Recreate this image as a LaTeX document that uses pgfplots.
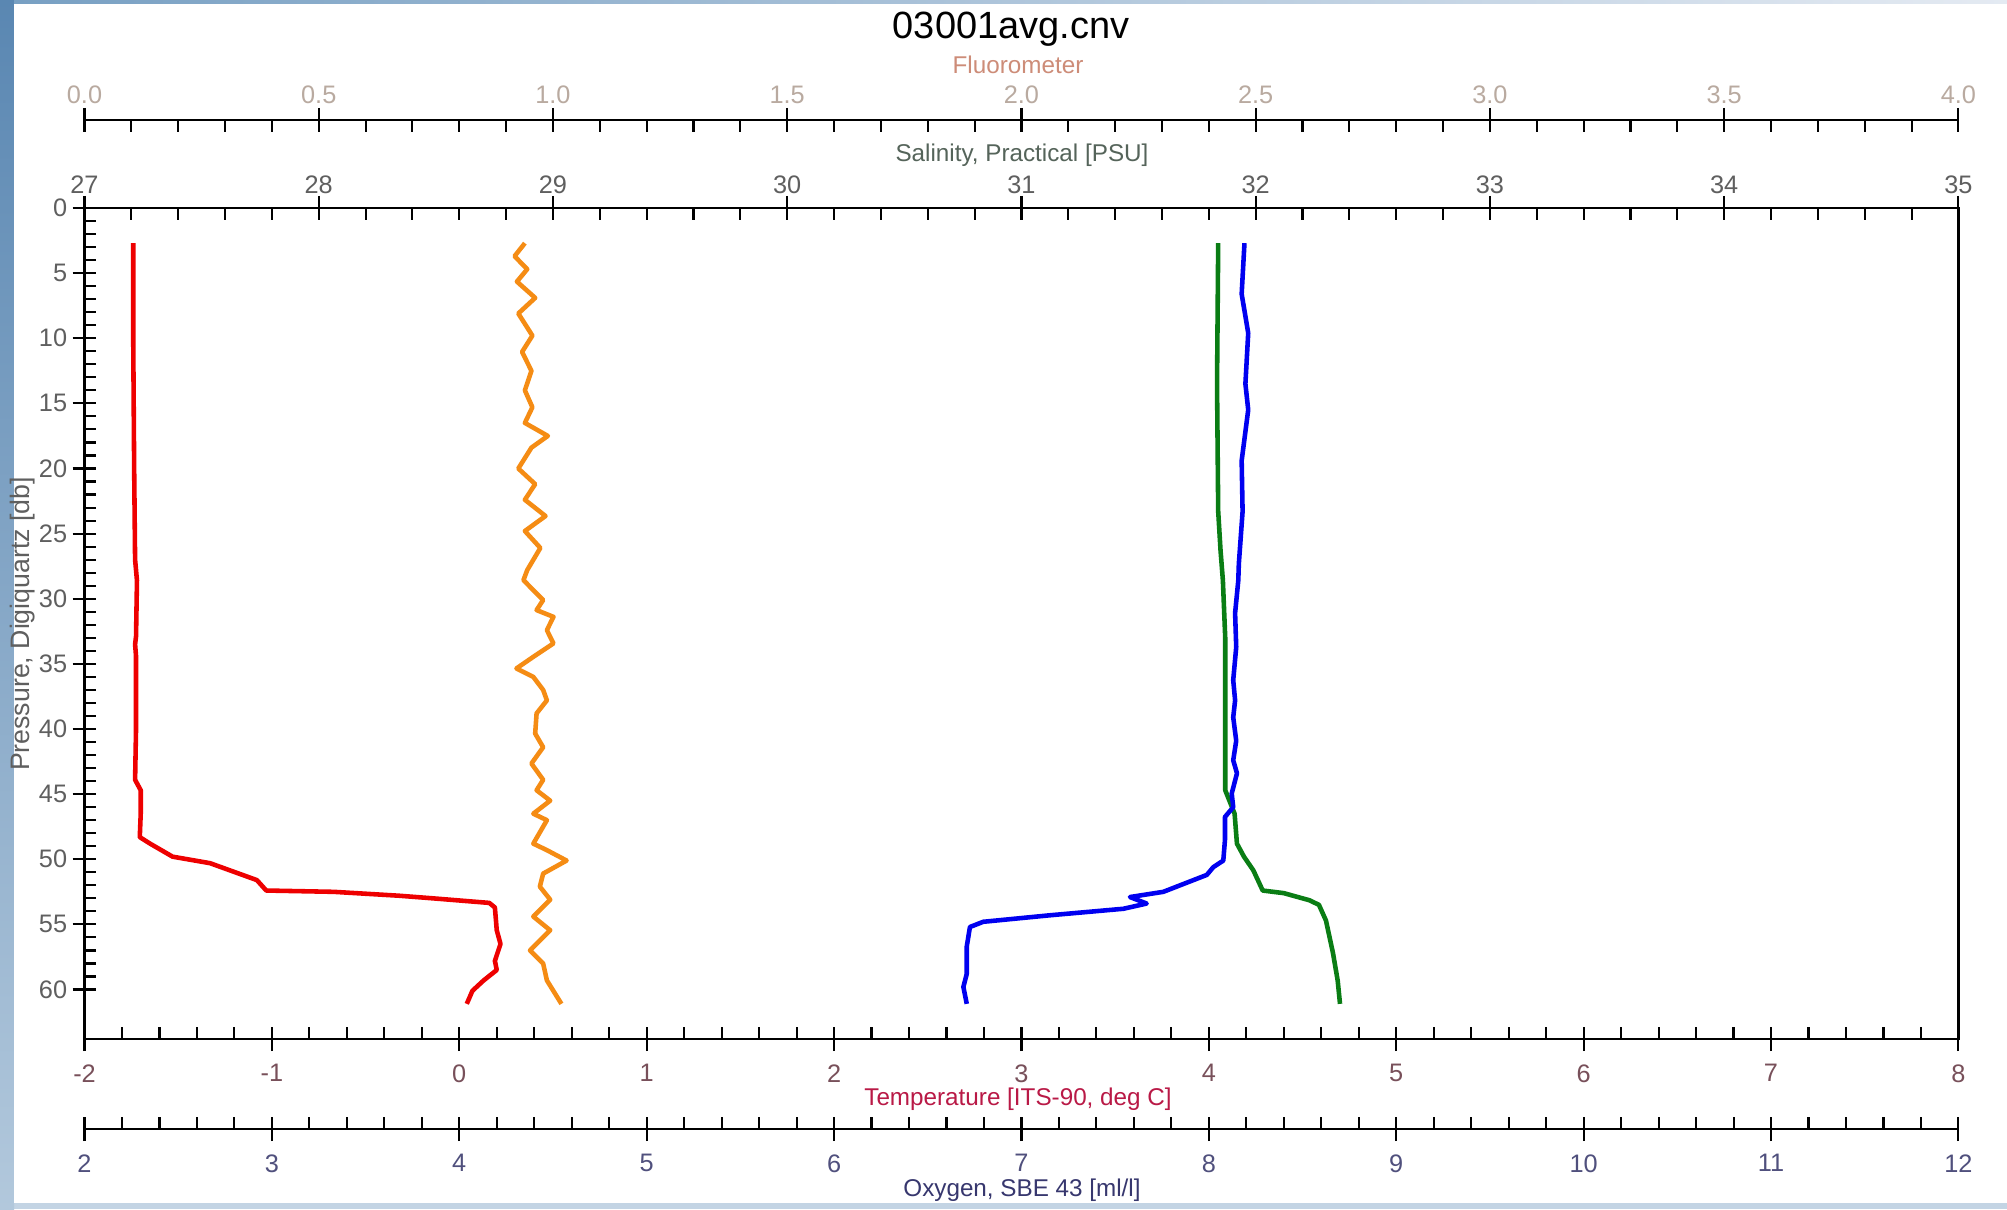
\documentclass[border=0pt]{standalone}
\usepackage{fontspec}
\setmainfont{Liberation Sans}
\usepackage{pgfplots}
\pgfplotsset{compat=1.18}
\usepackage{pgfplotstable}

\definecolor{cRed}{RGB}{238,0,0}
\definecolor{cOrange}{RGB}{245,140,20}
\definecolor{cGreen}{RGB}{10,125,20}
\definecolor{cBlue}{RGB}{0,0,240}
\definecolor{lFluor}{RGB}{205,140,120}
\definecolor{lSal}{RGB}{85,100,90}
\definecolor{lTemp}{RGB}{185,25,70}
\definecolor{lOxy}{RGB}{55,55,110}
\definecolor{tGray}{RGB}{95,95,95}
\definecolor{tFluor}{RGB}{185,170,160}
\definecolor{tTemp}{RGB}{120,80,90}
\definecolor{tOxy}{RGB}{80,80,125}
\definecolor{bgBlue}{RGB}{195,212,228}

\newcommand{\tickfont}{\fontsize{7.2}{8}\selectfont}
\newcommand{\labfont}{\fontsize{6.9}{8}\selectfont}

\pgfplotstableread{
T p
-1.74 2.7
-1.74 10
-1.735 20
-1.73 27
-1.72 28.6
-1.725 32.9
-1.73 33.5
-1.725 34.4
-1.725 40
-1.73 43.9
-1.70 44.7
-1.70 46.5
-1.705 48.3
-1.65 48.8
-1.53 49.8
-1.33 50.3
-1.08 51.6
-1.03 52.4
-0.67 52.5
-0.32 52.8
-0.14 53.0
0.16 53.35
0.19 53.7
0.20 55.45
0.22 56.5
0.19 57.8
0.20 58.5
0.13 59.3
0.07 60.1
0.04 61.1
}\temptable

\pgfplotstableread{
S p
31.84 2.7
31.835 13.5
31.84 23.3
31.85 26.3
31.86 28.6
31.87 33
31.87 44.7
31.91 46.5
31.92 48.8
31.95 49.8
31.99 50.85
32.03 52.4
32.12 52.6
32.23 53.15
32.27 53.5
32.30 54.7
32.33 57.2
32.35 59.3
32.36 61.1
}\saltable

\pgfplotstableread{
O p
8.19 2.7
8.175 6.6
8.21 9.6
8.195 13.5
8.21 15.5
8.175 19.4
8.18 23.3
8.16 27.3
8.157 28.6
8.14 31.1
8.146 33.7
8.13 36.25
8.14 37.8
8.13 39.1
8.146 40.9
8.13 42.4
8.15 43.4
8.122 44.95
8.13 46.0
8.086 46.75
8.086 48.5
8.077 50.1
8.024 50.6
7.989 51.2
7.864 51.9
7.757 52.5
7.579 52.9
7.668 53.4
7.544 53.8
7.152 54.3
6.796 54.8
6.725 55.2
6.708 56.7
6.708 58.8
6.69 59.8
6.708 61.1
}\oxytable

\pgfplotstableread{
F p
0.940 2.7
0.918 3.7
0.945 4.7
0.923 5.65
0.962 6.9
0.926 8.1
0.956 9.8
0.934 11.05
0.954 12.5
0.940 14.0
0.956 15.3
0.940 16.5
0.989 17.5
0.954 18.4
0.926 20.0
0.962 21.2
0.940 22.4
0.984 23.65
0.940 24.8
0.973 26.1
0.945 27.8
0.937 28.57
0.958 29.34
0.979 30.1
0.965 30.87
1.001 31.39
0.987 32.41
1.001 33.43
0.958 34.46
0.922 35.35
0.958 36.0
0.979 37.0
0.987 37.8
0.965 38.8
0.962 40.35
0.979 41.4
0.954 42.65
0.979 43.9
0.965 44.7
0.994 45.5
0.958 46.5
0.987 47.0
0.958 48.8
0.987 49.3
1.029 50.1
0.979 51.1
0.972 52.1
0.994 53.1
0.958 54.4
0.994 55.45
0.951 57.0
0.979 58.0
0.987 59.3
1.018 61.1
}\fluortable

\pgfplotsset{
  base/.style={
    scale only axis, width=18.739cm,
    axis line style={line width=0.75pt, black},
    tick style={line width=0.6pt, black},
    tick align=inside,
    major tick length=2.4mm, minor tick length=1.2mm,
  },
  box/.style={base, height=8.31cm, at={(0.845cm,1.70cm)}, anchor=south west,
    ymin=0, ymax=63.8, y dir=reverse},
  dataline/.style={line width=1.3pt, line join=round, no markers},
}

\begin{document}
\begin{tikzpicture}
\useasboundingbox (0,0) rectangle (20.07,12.09);
\fill[bgBlue] (0,0) rectangle (20.07,12.09);
\shade[top color={rgb,255:red,90;green,135;blue,178}, bottom color={rgb,255:red,178;green,200;blue,220}] (0,0) rectangle (0.14,12.09);
\shade[left color={rgb,255:red,120;green,160;blue,195}, right color={rgb,255:red,228;green,234;blue,242}] (0.14,12.05) rectangle (20.07,12.09);
\fill[white] (0.14,0.06) rectangle (20.07,12.05);

% Temperature data, box, bottom ticks
\begin{axis}[box,
  xmin=-2, xmax=8,
  ytick=\empty,
  xtick pos=left, xticklabel pos=left,
  xtick={-2,-1,0,1,2,3,4,5,6,7,8},
  xticklabels={-2,-1,0,1,2,3,4,5,6,7,8},
  minor x tick num=4,
  major tick style={yshift=-1.2mm},
  xticklabel style={font=\tickfont, text=tTemp, yshift=-1.3mm},
]
\addplot[dataline, cRed] table[x=T, y=p] {\temptable};
\end{axis}

% Pressure ticks
\begin{axis}[box,
  xmin=0, xmax=1,
  hide x axis,
  axis y line*=left,
  ytick={0,5,...,60},
  yticklabels={0,5,10,15,20,25,30,35,40,45,50,55,60},
  minor y tick num=4,
  major tick style={xshift=-1.2mm},
  yticklabel style={font=\tickfont, text=tGray, xshift=-0.5mm},
]
\end{axis}

% Salinity data and top ticks
\begin{axis}[box,
  xmin=27, xmax=35,
  hide y axis,
  axis x line*=top, xticklabel pos=right,
  xtick={27,28,29,30,31,32,33,34,35},
  xticklabels={27,28,29,30,31,32,33,34,35},
  minor x tick num=4,
  major tick style={yshift=1.2mm},
  xticklabel style={font=\tickfont, text=tGray, yshift=0.2mm},
]
\addplot[dataline, cGreen] table[x=S, y=p] {\saltable};
\end{axis}

% Fluorometer data
\begin{axis}[box, xmin=0, xmax=4, hide axis]
\addplot[dataline, cOrange] table[x=F, y=p] {\fluortable};
\end{axis}

% Oxygen data
\begin{axis}[box, xmin=2, xmax=12, hide axis]
\addplot[dataline, cBlue] table[x=O, y=p] {\oxytable};
\end{axis}

% Fluorometer scale
\begin{axis}[base, height=1cm, at={(0.845cm,10.89cm)}, anchor=north west,
  xmin=0, xmax=4, ymin=0, ymax=1,
  hide y axis,
  axis x line*=top, xticklabel pos=right,
  xtick={0,0.5,1,1.5,2,2.5,3,3.5,4},
  xticklabels={0.0,0.5,1.0,1.5,2.0,2.5,3.0,3.5,4.0},
  minor x tick num=4,
  major tick style={yshift=1.2mm},
  xticklabel style={font=\tickfont, text=tFluor, yshift=0.4mm},
]
\end{axis}

% Oxygen scale
\begin{axis}[base, height=1cm, at={(0.845cm,0.80cm)}, anchor=south west,
  xmin=2, xmax=12, ymin=0, ymax=1,
  hide y axis,
  axis x line*=bottom, xticklabel pos=left,
  xtick={2,3,4,5,6,7,8,9,10,11,12},
  xticklabels={2,3,4,5,6,7,8,9,10,11,12},
  minor x tick num=4,
  major tick style={yshift=-1.2mm},
  xticklabel style={font=\tickfont, text=tOxy, yshift=-1.3mm},
]
\end{axis}

% Titles
\node[anchor=base, font=\fontsize{10.8}{12}\selectfont] at (10.11,11.706) {03001avg.cnv};
\node[anchor=base, font=\labfont, text=lFluor] at (10.18,11.35) {Fluorometer};
\node[anchor=base, font=\labfont, text=lSal] at (10.22,10.47) {Salinity, Practical [PSU]};
\node[anchor=base, font=\labfont, text=lTemp] at (10.18,1.04) {Temperature [ITS-90, deg C]};
\node[anchor=base, font=\labfont, text=lOxy] at (10.22,0.13) {Oxygen, SBE 43 [ml/l]};
\node[rotate=90, anchor=center, font=\fontsize{7.6}{8}\selectfont, text=tGray] at (0.23,5.85) {Pressure, Digiquartz [db]};
\end{tikzpicture}
\end{document}
